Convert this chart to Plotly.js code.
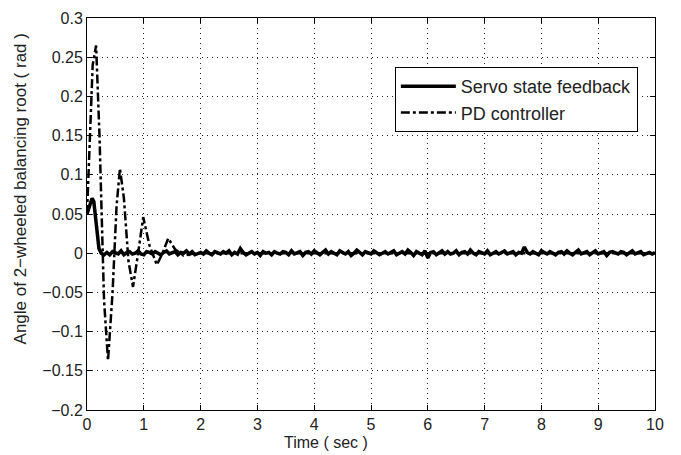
<!DOCTYPE html>
<html>
<head>
<meta charset="utf-8">
<script src="https://cdn.plot.ly/plotly-3.0.1.min.js"></script>
<style>html,body{margin:0;padding:0;background:#fff;}#plot{width:681px;height:455px;}</style>
</head>
<body>
<div id="plot"></div>
<script>
// Servo state feedback: initial transient
var servoTransientT = [0, 0.03, 0.06, 0.09, 0.12, 0.15, 0.18, 0.21, 0.25, 0.3];
var servoTransientY = [0.05, 0.056, 0.064, 0.07, 0.066, 0.046, 0.02, 0.006, 0.0, -0.002];
// Servo steady-state wiggle (thousandths of rad), sampled every 0.05 s from 0.35 s
var servoNoiseStart = 0.35;
var servoNoiseStep = 0.05;
var servoNoise = [
 1,-2,2,0,-1,3,-2,1,2,-1,0,3,-1,-2,2,1,-1,2,0,-2,
 1,3,-1,0,2,-2,1,0,3,-1,2,-2,0,1,-1,3,0,-2,2,1,
 -1,2,0,3,-2,1,-1,6,1,-2,0,2,-1,1,-3,2,0,1,-2,2,
 0,-1,2,1,-2,3,-1,0,2,-3,1,2,-1,3,0,-2,1,4,-1,2,
 0,-2,3,1,-1,2,-3,0,4,1,-2,2,0,-1,3,1,-2,0,2,-1,
 1,3,-2,0,2,-1,4,1,-3,2,0,-2,3,-6,1,2,-2,0,3,-1,
 2,-1,0,3,-2,1,2,-1,4,0,-2,2,1,-1,3,-2,0,2,-1,1,
 3,-1,0,2,-2,1,0,8,1,-1,2,0,-2,3,1,-1,2,0,-2,1,
 2,-1,3,0,-2,1,4,-1,0,2,-2,1,3,-1,0,2,-3,1,2,0,
 -1,2,1,-2,0,3,-1,1,2,-2,0,1,-1,1
];
// PD controller response
var pdT = [0, 0.05, 0.1, 0.16, 0.22, 0.3, 0.37, 0.45, 0.52, 0.58, 0.65, 0.73, 0.81, 0.9, 0.99, 1.1, 1.23, 1.33, 1.43, 1.55, 1.7, 1.9, 10];
var pdY = [0.05, 0.15, 0.24, 0.265, 0.15, -0.06, -0.137, -0.05, 0.06, 0.108, 0.07, -0.01, -0.043, 0.0, 0.046, 0.01, -0.015, 0.0, 0.019, 0.005, -0.003, 0.0, 0.0];

var yTickVals = [0.3, 0.25, 0.2, 0.15, 0.1, 0.05, 0, -0.05, -0.1, -0.15, -0.2];
var xTickVals = [0,1,2,3,4,5,6,7,8,9,10];
var xTitle = 'Time ( sec )';
var yTitle = 'Angle of 2\u2212wheeled balancing root ( rad )';

var servoT = servoTransientT.slice();
var servoY = servoTransientY.slice();
for (var i = 0; i < servoNoise.length; i++) {
  servoT.push(+(servoNoiseStart + i * servoNoiseStep).toFixed(3));
  servoY.push(servoNoise[i] / 1000);
}

var font = "Liberation Sans, Arial, sans-serif";
var traces = [
  {x: pdT, y: pdY, mode: 'lines', name: 'PD controller',
   line: {color: '#000', width: 2.5, dash: 'dashdot'}},
  {x: servoT, y: servoY, mode: 'lines', name: 'Servo state feedback',
   line: {color: '#000', width: 3.5}}
];
var axisCommon = {
  showline: true, linecolor: '#000', linewidth: 1, mirror: 'ticks',
  ticks: 'inside', ticklen: 5, tickcolor: '#000',
  showgrid: true, gridcolor: '#222', gridwidth: 1, griddash: '1px,4px',
  zeroline: false, tickfont: {family: font, size: 16, color: '#222'}
};
var layout = {
  width: 681, height: 455,
  margin: {l: 87, r: 26, t: 18, b: 45},
  paper_bgcolor: '#fff', plot_bgcolor: '#fff',
  showlegend: true,
  legend: {x: 0.542, y: 0.875, xanchor: 'left', yanchor: 'top',
    bordercolor: '#000', borderwidth: 1, bgcolor: '#fff',
    traceorder: 'reversed', itemwidth: 55,
    font: {family: font, size: 18, color: '#222'}},
  xaxis: Object.assign({}, axisCommon, {range: [0, 10], tickvals: xTickVals}),
  yaxis: Object.assign({}, axisCommon, {range: [-0.2, 0.3], tickvals: yTickVals}),
  annotations: [
    {text: xTitle, xref: 'paper', yref: 'paper', x: 0.421, y: -0.084,
     xanchor: 'center', yanchor: 'middle', showarrow: false,
     font: {family: font, size: 16, color: '#222'}},
    {text: yTitle, xref: 'paper', yref: 'paper', x: -0.117, y: 0.564,
     xanchor: 'center', yanchor: 'middle', showarrow: false, textangle: -90,
     font: {family: font, size: 17, color: '#222'}}
  ]
};
Plotly.newPlot('plot', traces, layout, {displayModeBar: false, staticPlot: true});
</script>
</body>
</html>
